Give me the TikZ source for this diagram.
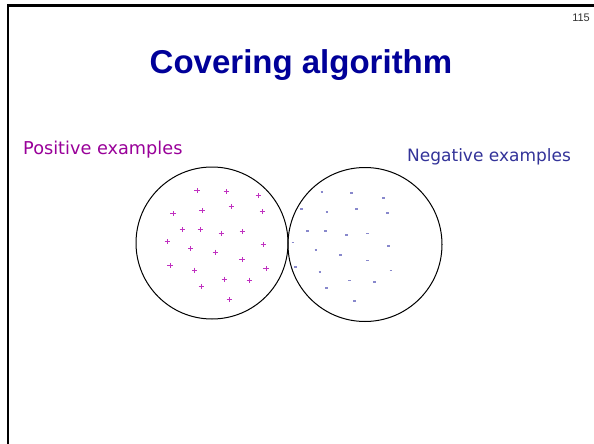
\documentclass[tikz,border=0pt]{standalone}
\usepackage{fontspec}
\setmainfont{Liberation Sans}
\newfontfamily\labelfont{DejaVu Sans}
\definecolor{titleblue}{HTML}{000099}
\definecolor{poscol}{HTML}{990099}
\definecolor{negcol}{HTML}{333399}
\definecolor{plusc}{HTML}{C030C0}
\definecolor{minusc}{HTML}{8888CC}
\tikzset{
  setcircle/.style={draw=black,line width=1pt,circle,inner sep=0pt},
  border/.style={draw=black,line width=2.4pt},
  lab/.style={anchor=base west,inner sep=0pt},
}
\newcommand{\plusat}[2]{\draw[plusc,line width=0.9pt] (#1-2.7,#2) -- (#1+2.7,#2) (#1,#2-2.7) -- (#1,#2+2.7);}
\newcommand{\minusat}[2]{\draw[minusc,line width=1.1pt] (#1-1.3,#2) -- (#1+1.3,#2);}
\begin{document}
\begin{tikzpicture}[x=1pt,y=-1pt]
\useasboundingbox (0,0) rectangle (594,444);
\fill[white] (0,0) rectangle (594,444);
% frame
\coordinate (tl) at (8,5.7);
\coordinate (tr) at (594,5.7);
\coordinate (bl) at (8,444);
\draw[border] (tr) -- (tl) -- (bl);
% page number
\node[anchor=base east,inner sep=0pt,font=\fontsize{11}{12}\selectfont,text=black!80] (pg) at (590,22) {115};
% title
\node[anchor=base,inner sep=0pt,font=\fontsize{33}{38}\selectfont\bfseries,text=titleblue] (title) at (301,74) {Covering algorithm};
% labels
\node[lab,font=\labelfont\fontsize{17.7}{20}\selectfont,text=poscol] (poslab) at (23,154) {Positive examples};
\node[lab,font=\labelfont\fontsize{17}{20}\selectfont,text=negcol] (neglab) at (407,161) {Negative examples};
% circles
\node[setcircle,minimum size=152pt] (posset) at (212,243) {};
\node[setcircle,minimum size=154pt] (negset) at (365,244.5) {};
% plus signs
\foreach \x/\y in {197/190.7,226.3/191.7,258.3/195.7,173/213.7,202/210.7,231.3/206.7,262.3/211.7,182.3/229.7,200.3/229.7,221.3/233.3,242.3/231.7,167.3/241.7,190.7/248.7,215.3/252.3,263.3/244.7,242/259.7,170/265.7,194.7/270.3,266/268.7,224.3/279.3,249.3/280.3,201.3/286.7,229.3/299.7}
  {\plusat{\x}{\y}}
% minus signs
\foreach \x/\y in {322/192,351.3/193,383.3/198,301.3/209,327/212,356.3/209,387.3/213,307.3/231,325.7/231,346.3/235,367.3/233.7,293/242.7,316/250,340.3/255,388.3/246,367.3/260.7,295.3/267,320/272,391/270.7,349.3/280.7,374.3/282,326.3/288,354.7/301}
  {\minusat{\x}{\y}}
\end{tikzpicture}
\end{document}
